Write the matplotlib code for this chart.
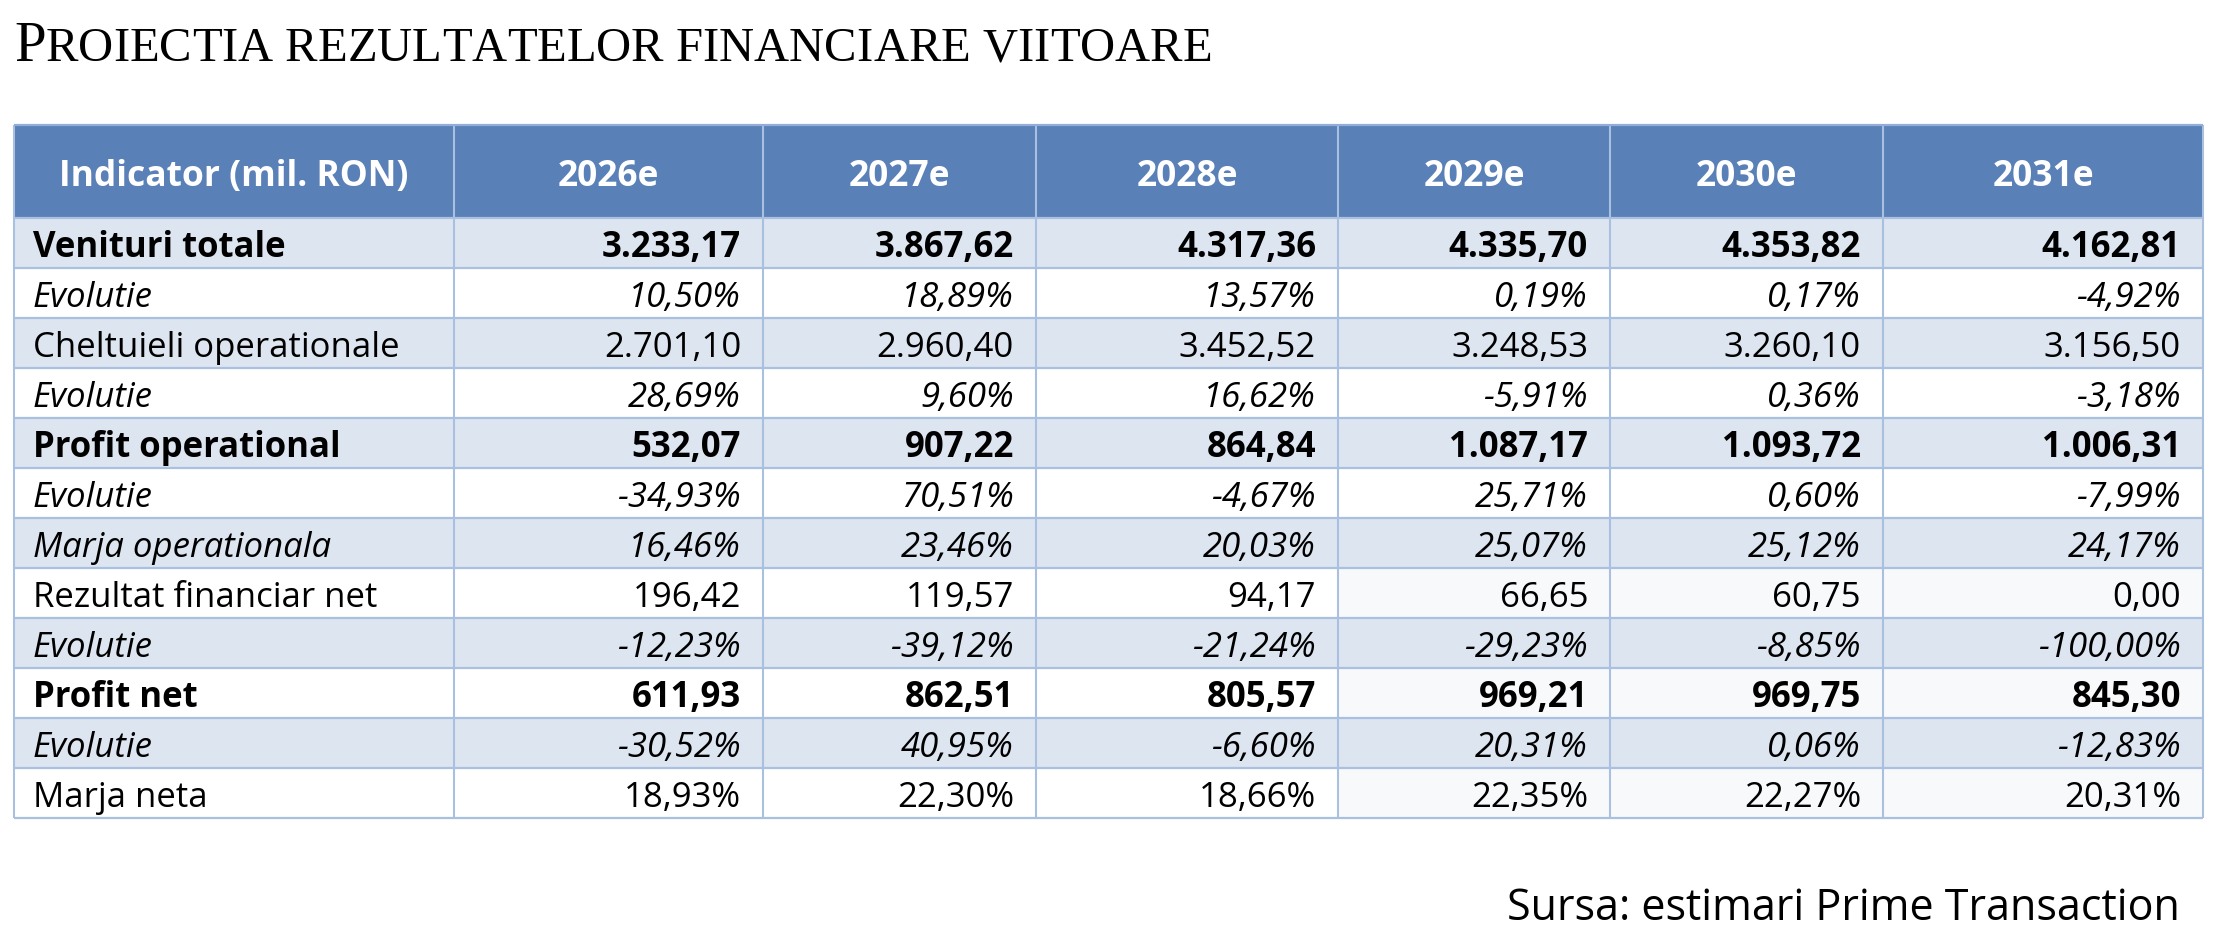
import matplotlib
matplotlib.use('Agg')
from matplotlib import pyplot as plt
from matplotlib.patches import Rectangle

# date tabel (mil. RON)
years = ['2026e', '2027e', '2028e', '2029e', '2030e', '2031e']
indicators = ['Venituri totale', 'Evolutie', 'Cheltuieli operationale', 'Evolutie',
              'Profit operational', 'Evolutie', 'Marja operationala',
              'Rezultat financiar net', 'Evolutie', 'Profit net', 'Evolutie', 'Marja neta']

venituri = [3233.17, 3867.62, 4317.36, 4335.70, 4353.82, 4162.81]
ev_venituri = [10.50, 18.89, 13.57, 0.19, 0.17, -4.92]
cheltuieli = [2701.10, 2960.40, 3452.52, 3248.53, 3260.10, 3156.50]
ev_cheltuieli = [28.69, 9.60, 16.62, -5.91, 0.36, -3.18]
profit_op = [532.07, 907.22, 864.84, 1087.17, 1093.72, 1006.31]
ev_profit_op = [-34.93, 70.51, -4.67, 25.71, 0.60, -7.99]
marja_op = [16.46, 23.46, 20.03, 25.07, 25.12, 24.17]
rez_fin = [196.42, 119.57, 94.17, 66.65, 60.75, 0.00]
ev_rez_fin = [-12.23, -39.12, -21.24, -29.23, -8.85, -100.00]
profit_net = [611.93, 862.51, 805.57, 969.21, 969.75, 845.30]
ev_profit_net = [-30.52, 40.95, -6.60, 20.31, 0.06, -12.83]
marja_neta = [18.93, 22.30, 18.66, 22.35, 22.27, 20.31]

rows = [venituri, ev_venituri, cheltuieli, ev_cheltuieli, profit_op, ev_profit_op,
        marja_op, rez_fin, ev_rez_fin, profit_net, ev_profit_net, marja_neta]
is_pct = [False, True, False, True, False, True, True, False, True, False, True, True]
styles = ['bold', 'italic', 'normal', 'italic', 'bold', 'italic', 'italic',
          'normal', 'italic', 'bold', 'italic', 'normal']


def ro(v, pct=False):
    s = f'{v:,.2f}'.replace(',', ' ').replace('.', ',').replace(' ', '.')
    return s + '%' if pct else s


# culori
HEAD = '#5a80b8'
SHADE = '#dde5f0'
OFFW = '#f8f9fb'
LINE = '#a9c0e0'

plt.rcParams['font.family'] = ['Open Sans', 'DejaVu Sans']

W, H = 2224, 932
fig = plt.figure(figsize=(W / 100, H / 100), dpi=100)
ax = fig.add_axes([0, 0, 1, 1])
ax.set_xlim(0, W)
ax.set_ylim(H, 0)
ax.axis('off')

# asezare tabel in pixeli
col_x = [14, 454, 763, 1036, 1338, 1610, 1883, 2203]
top = 125
head_h = 93
row_h = 50
body_top = top + head_h
bottom = body_top + row_h * len(rows)

# fundaluri
ax.add_patch(Rectangle((col_x[0], top), col_x[-1] - col_x[0], head_h, color=HEAD, lw=0))
for i in range(len(rows)):
    y0 = body_top + i * row_h
    if i % 2 == 0:
        ax.add_patch(Rectangle((col_x[0], y0), col_x[-1] - col_x[0], row_h, color=SHADE, lw=0))
    elif i >= 7:
        # celule usor gri in ultimele coloane
        ax.add_patch(Rectangle((col_x[4], y0), col_x[-1] - col_x[4], row_h, color=OFFW, lw=0))

# linii
for x in col_x:
    ax.plot([x, x], [top, bottom], color=LINE, lw=1.5, solid_capstyle='butt')
for i in range(len(rows) + 1):
    y = body_top + i * row_h
    ax.plot([col_x[0], col_x[-1]], [y, y], color=LINE, lw=1.6, solid_capstyle='butt')
ax.plot([col_x[0], col_x[-1]], [top, top], color='#93aed6', lw=1.6, solid_capstyle='butt')

# antet
hdr = ['Indicator (mil. RON)'] + years
for j, t in enumerate(hdr):
    xc = (col_x[j] + col_x[j + 1]) / 2
    ax.text(xc, top + 61, t, ha='center', va='baseline', color='white',
            fontsize=25.5, fontweight='bold')

# corp tabel
for i, (name, vals) in enumerate(zip(indicators, rows)):
    yb = body_top + i * row_h + 39
    wt = 'bold' if styles[i] == 'bold' else 'normal'
    st = 'italic' if styles[i] == 'italic' else 'normal'
    ax.text(col_x[0] + 19, yb, name, ha='left', va='baseline', fontsize=25,
            fontweight=wt, fontstyle=st, color='black')
    for j, v in enumerate(vals):
        ax.text(col_x[j + 2] - 22, yb, ro(v, is_pct[i]), ha='right', va='baseline',
                fontsize=25, fontweight=wt, fontstyle=st, color='black')

# titlu cu majuscule mici
title = 'Proiectia rezultatelor financiare viitoare'
renderer = fig.canvas.get_renderer()
x = 14
for k, word in enumerate(title.split(' ')):
    for n, ch in enumerate(word):
        big = (k == 0 and n == 0)
        t = ax.text(x, 61, ch.upper(), ha='left', va='baseline', color='black',
                    family='Liberation Serif', fontsize=41 if big else 35)
        bb = t.get_window_extent(renderer)
        x += bb.width
    x += 12

ax.text(2180, 920, 'Sursa: estimari Prime Transaction', ha='right', va='baseline',
        fontsize=31, color='black')

plt.savefig('out.png', dpi=100)
